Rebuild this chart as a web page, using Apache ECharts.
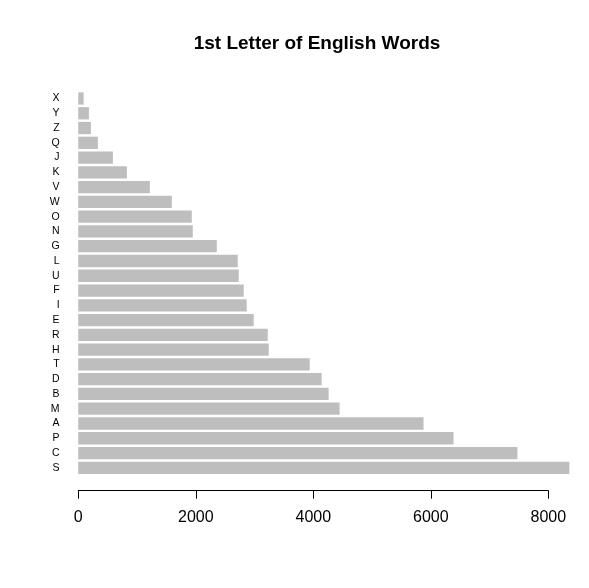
<!DOCTYPE html>
<html>
<head>
<meta charset="utf-8">
<script src="https://cdn.jsdelivr.net/npm/echarts@6/dist/echarts.min.js"></script>
<style>
  html, body { margin: 0; padding: 0; background: #fff; }
  #chart { width: 589px; height: 588px; }
</style>
</head>
<body>
<div id="chart"></div>
<script>
// letters, bottom bar first (R barplot draws the first one at the bottom)
var letters = ["S", "C", "P", "A", "M", "B", "D", "T", "H", "R", "E", "I", "F",
               "U", "L", "G", "N", "O", "W", "V", "K", "J", "Q", "Z", "Y", "X"];
var counts = [8369, 7484, 6395, 5884, 4454, 4267, 4148, 3944, 3246, 3229, 2990, 2871, 2820,
              2735, 2718, 2361, 1952, 1935, 1595, 1220, 829, 591, 335, 216, 182, 92];
var tickMin = 0;
var tickMax = 8000;
var tickStep = 2000;

var chart = echarts.init(document.getElementById("chart"));

var maxVal = Math.max.apply(null, counts);
var pad = maxVal * 0.04;

var option = {
    backgroundColor: "#fff",
    animation: false,
    title: {
        text: "1st Letter of English Words",
        left: 312,
        top: 29,
        textAlign: "center",
        textStyle: {
            fontFamily: "Liberation Sans",
            fontSize: 19,
            fontWeight: "bold",
            color: "#000"
        }
    },
    grid: [
        // bars
        {left: 58.6, width: 531, top: 91.1, height: 384.1},
        // axis, only from 0 to 8000 like R's axis()
        {left: 78.3, width: 470, top: 91.1, height: 399.6}
    ],
    xAxis: [{
        gridIndex: 0,
        type: "value",
        min: -pad,
        max: maxVal + pad,
        show: false
    }, {
        gridIndex: 1,
        type: "value",
        min: tickMin,
        max: tickMax,
        interval: tickStep,
        splitLine: {show: false},
        axisLine: {lineStyle: {color: "#000", width: 1}},
        axisTick: {length: 8, lineStyle: {color: "#000"}},
        axisLabel: {
            margin: 19,
            fontFamily: "Liberation Sans",
            fontSize: 16,
            color: "#000",
            formatter: function (v) { return String(v); }
        }
    }],
    yAxis: [{
        gridIndex: 0,
        type: "category",
        data: letters,
        axisLine: {show: false},
        axisTick: {show: false},
        axisLabel: {
            margin: -1,
            fontFamily: "Liberation Sans",
            fontSize: 10.5,
            color: "#000",
            padding: [2, 0, 0, 0]
        }
    }, {
        gridIndex: 1,
        type: "value",
        min: 0,
        max: 1,
        show: false
    }],
    series: [{
        type: "bar",
        xAxisIndex: 0,
        yAxisIndex: 0,
        data: counts,
        barCategoryGap: "16.7%",
        itemStyle: {color: "#bebebe"},
        silent: true
    }]
};
chart.setOption(option);
</script>
</body>
</html>
